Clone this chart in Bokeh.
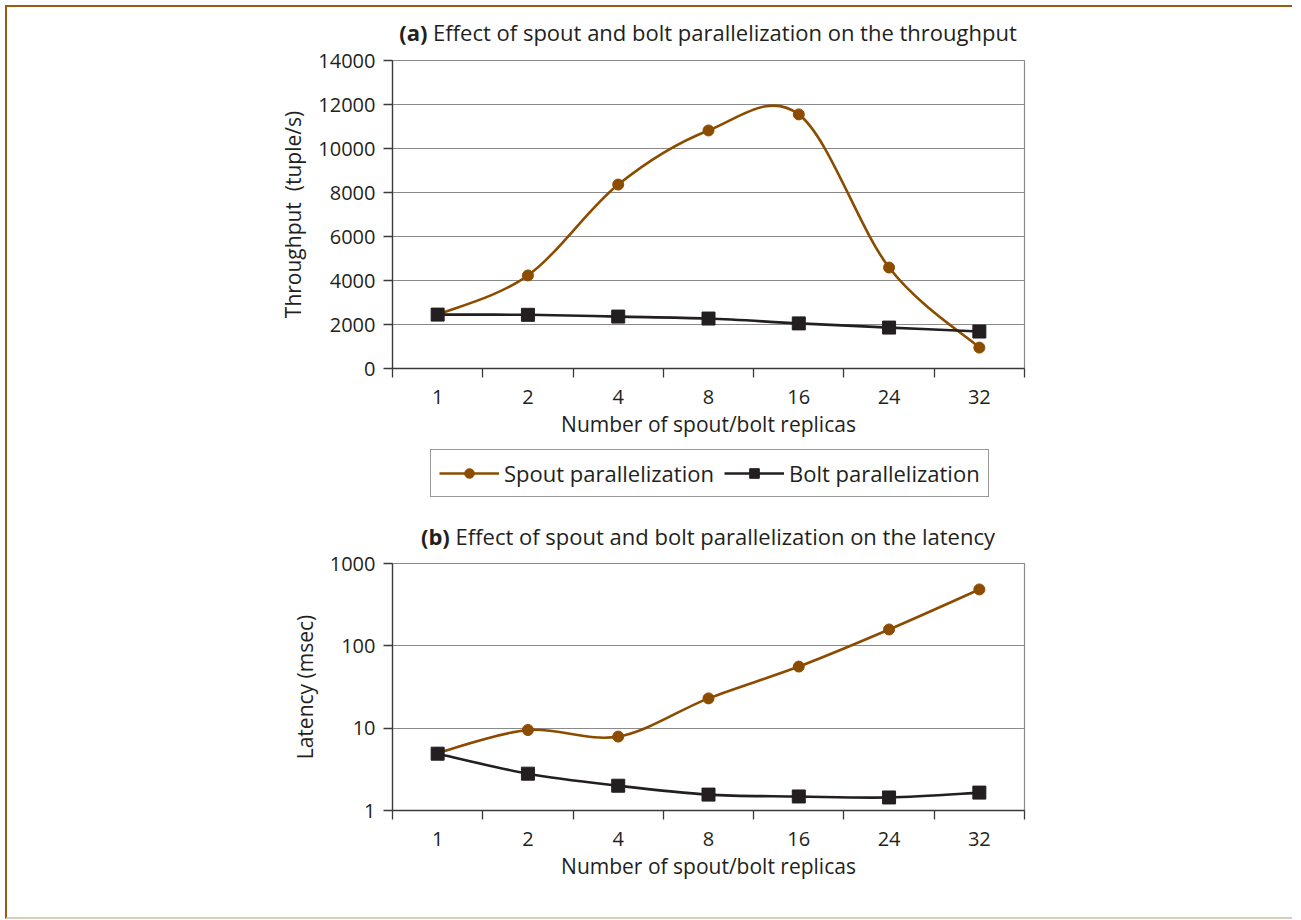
import numpy as np
from bokeh.plotting import figure
from bokeh.models import Range1d, FixedTicker, Legend, LegendItem, Div, PrintfTickFormatter
from bokeh.layouts import column
from bokeh.embed import file_html
from bokeh.resources import INLINE

# ---- data ----
categories = ["1", "2", "4", "8", "16", "24", "32"]
spout_throughput = [2450, 4230, 8360, 10820, 11550, 4590, 950]
bolt_throughput = [2450, 2440, 2360, 2270, 2050, 1860, 1680]
spout_latency = [5.0, 9.5, 7.9, 23, 56, 158, 484]
bolt_latency = [4.9, 2.8, 2.0, 1.56, 1.48, 1.44, 1.65]
throughput_ticks = [0, 2000, 4000, 6000, 8000, 10000, 12000, 14000]
latency_ticks = [1, 10, 100, 1000]

FONT = "Open Sans"
BROWN = "#8B4C00"
DARK = "#231F20"
GRID = "#8a8a8a"
AXIS = "#3a3a3a"
TXT = "#231F20"

xpos = list(range(1, len(categories) + 1))

OX = 7   # content origin inside the page frame
OY = 7
W = 1285


def smooth(xs, ys, log=False):
    ty = np.log10(np.array(ys, dtype=float)) if log else np.array(ys, dtype=float)
    xs = np.array(xs, dtype=float)
    n = len(xs)
    g = lambda i: max(0, min(n - 1, i))
    d = dict(x0=[], y0=[], x1=[], y1=[], cx0=[], cy0=[], cx1=[], cy1=[])
    for i in range(n - 1):
        a, b, c, e = g(i - 1), i, i + 1, g(i + 2)
        d["x0"].append(xs[b]); d["y0"].append(ty[b])
        d["x1"].append(xs[c]); d["y1"].append(ty[c])
        d["cx0"].append(xs[b] + (xs[c] - xs[a]) / 6); d["cy0"].append(ty[b] + (ty[c] - ty[a]) / 6)
        d["cx1"].append(xs[c] - (xs[e] - xs[b]) / 6); d["cy1"].append(ty[c] - (ty[e] - ty[b]) / 6)
    if log:
        for k in ("y0", "y1", "cy0", "cy1"):
            d[k] = list(10 ** np.array(d[k]))
    return d


def style(p):
    p.background_fill_color = "white"
    p.border_fill_color = "white"
    p.outline_line_color = GRID
    p.outline_line_width = 1.2
    p.xgrid.visible = False
    p.ygrid.grid_line_color = GRID
    p.ygrid.grid_line_width = 1.2
    for ax in (p.xaxis[0], p.yaxis[0]):
        ax.axis_line_color = AXIS
        ax.axis_line_width = 1.3
        ax.major_tick_line_color = AXIS
        ax.minor_tick_line_color = AXIS
        ax.major_tick_line_width = 1.3
        ax.minor_tick_line_width = 1.3
        ax.major_label_text_font = FONT
        ax.major_label_text_font_size = "20px"
        ax.major_label_text_color = TXT
        ax.axis_label_text_font = FONT
        ax.axis_label_text_font_size = "21px"
        ax.axis_label_text_font_style = "normal"
        ax.axis_label_text_color = TXT
    xa = p.xaxis[0]
    xa.ticker = FixedTicker(ticks=xpos, minor_ticks=[v - 0.5 for v in xpos] + [xpos[-1] + 0.5])
    xa.major_label_overrides = {v: c for v, c in zip(xpos, categories)}
    xa.major_tick_out = 0
    xa.major_tick_in = 0
    xa.minor_tick_out = 9
    xa.minor_tick_in = 0
    xa.major_label_standoff = 12
    xa.axis_label = "Number of spout/bolt replicas"
    xa.axis_label_standoff = 3
    ya = p.yaxis[0]
    ya.major_tick_out = 9
    ya.major_tick_in = 0
    ya.minor_tick_out = 0
    ya.minor_tick_in = 0
    ya.major_label_standoff = 8
    ya.axis_label_standoff = 8


def add_series(p, xs, ys, color, marker, size, log=False):
    src = smooth(xs, ys, log)
    rb = p.bezier(x0="x0", y0="y0", x1="x1", y1="y1", cx0="cx0", cy0="cy0", cx1="cx1", cy1="cy1",
                  source=src, line_color=color, line_width=2.6)
    rs = p.scatter(xs, ys, marker=marker, size=size, fill_color=color, line_color=color)
    return [rb, rs]


def title_div(tag, text, h, pad_top):
    return Div(text=f"<b>{tag}</b> {text}", width=632, height=h, margin=(0, 0, 0, 392 - OX),
               styles={"text-align": "center", "font-family": FONT, "font-size": "22px",
                       "color": TXT, "padding-top": f"{pad_top}px", "line-height": "24px",
                       "white-space": "nowrap"})


# ---- top chart ----
div_a = title_div("(a)", "Effect of spout and bolt parallelization on the throughput", 48 - OY, 20 - OY)
p1 = figure(x_range=Range1d(0.5, 7.5), y_range=Range1d(0, 14000),
            width=W, height=400,
            min_border_left=392 - OX, min_border_right=W - (392 - OX) - 632,
            min_border_top=12, min_border_bottom=80,
            output_backend="svg", toolbar_location=None)
style(p1)
p1.yaxis[0].ticker = FixedTicker(ticks=throughput_ticks)
p1.yaxis[0].axis_label = "Throughput\u00a0\u00a0(tuple/s)"
add_series(p1, xpos, spout_throughput, BROWN, "circle", 11)
add_series(p1, xpos, bolt_throughput, DARK, "square", 13)

# ---- legend strip (frame aligned with the charts above/below) ----
# its series lie outside this strip's ranges, so only the legend is visible
p3 = figure(x_range=Range1d(-1, 0), y_range=Range1d(-1, 0), width=W, height=57,
            x_axis_location=None, y_axis_location=None, min_border=0,
            output_backend="svg", toolbar_location=None)
p3.outline_line_color = None
p3.grid.visible = False
p3.background_fill_color = "white"
p3.border_fill_color = "white"
leg_s = add_series(p3, xpos, spout_throughput, BROWN, "circle", 11)
leg_b = add_series(p3, xpos, bolt_throughput, DARK, "square", 13)
legend = Legend(items=[LegendItem(label="Spout parallelization", renderers=leg_s),
                       LegendItem(label="Bolt parallelization", renderers=leg_b)],
                orientation="horizontal", location=(430 - 392, 8),
                label_text_font=FONT, label_text_font_size="22px", label_text_color=TXT,
                label_height=24,
                glyph_width=60, glyph_height=24, padding=8, spacing=10, label_standoff=5,
                border_line_color="#333333", border_line_width=1.5, margin=0,
                background_fill_color="white")
p3.add_layout(legend)

# ---- bottom chart ----
div_b = title_div("(b)", "Effect of spout and bolt parallelization on the latency", 45, 19)
p2 = figure(x_range=Range1d(0.5, 7.5), y_range=Range1d(1, 1000), y_axis_type="log",
            width=W, height=13 + 247 + 107,
            min_border_left=392 - OX, min_border_right=W - (392 - OX) - 632,
            min_border_top=13, min_border_bottom=107,
            output_backend="svg", toolbar_location=None)
style(p2)
p2.yaxis[0].ticker = FixedTicker(ticks=latency_ticks)
p2.yaxis[0].formatter = PrintfTickFormatter(format="%d")
p2.yaxis[0].axis_label = "Latency (msec)"
add_series(p2, xpos, spout_latency, BROWN, "circle", 11, log=True)
add_series(p2, xpos, bolt_latency, DARK, "square", 13, log=True)

layout = column(div_a, p1, p3, div_b, p2, margin=(5, 0, 0, 5),
                styles={"border-left": "2px solid #9A5A12",
                        "border-top": "2px solid #9A5A12",
                        "border-bottom": "2px solid #D9CCBB",
                        "background-color": "white"})

open("out.html", "w").write(file_html(layout, INLINE))
